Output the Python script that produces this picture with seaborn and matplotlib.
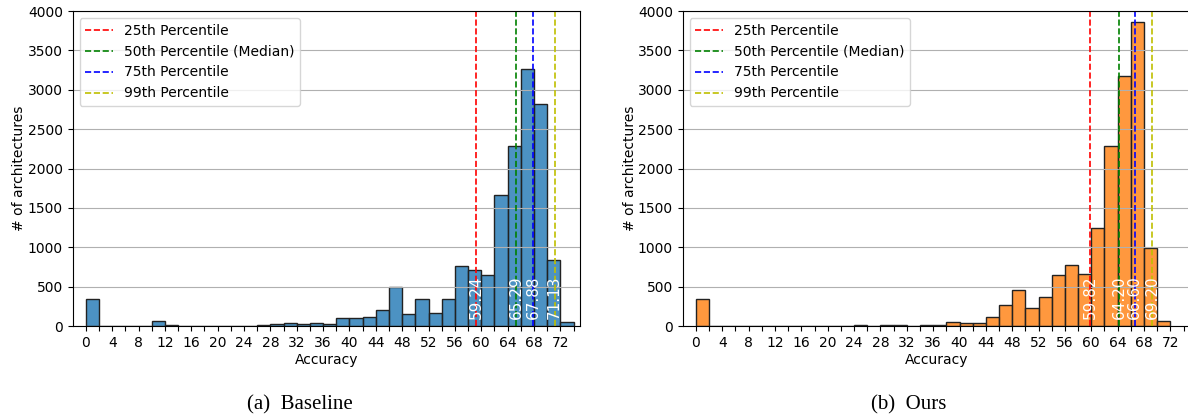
import matplotlib

matplotlib.use("Agg")
import matplotlib.pyplot as plt
import numpy as np
import pandas as pd
import seaborn as sns

# --- data (2-wide accuracy bins starting at 0) ---
BIN_WIDTH = 2
baseline_counts = [340, 0, 0, 0, 0, 60, 10, 0, 0, 0, 0, 0, 0, 10, 20, 40, 20, 38, 30,
                   100, 100, 110, 200, 490, 150, 340, 160, 340, 765, 715, 650, 1670,
                   2285, 3260, 2815, 840, 50]
ours_counts = [340, 0, 0, 0, 0, 0, 0, 0, 0, 0, 0, 0, 10, 0, 10, 10, 0, 8, 8, 50, 35, 35,
               110, 270, 455, 235, 365, 650, 775, 660, 1250, 2285, 3175, 3865, 985, 60]
baseline_pct = [59.24, 65.29, 67.88, 71.13]
ours_pct = [59.82, 64.20, 66.60, 69.20]
pct_labels = ["25th Percentile", "50th Percentile (Median)", "75th Percentile", "99th Percentile"]
pct_colors = ["r", "g", "b", "y"]
captions = ["(a)  Baseline", "(b)  Ours"]

plt.rcParams["font.family"] = "DejaVu Sans"
FS = 10

fig = plt.figure(figsize=(11.88, 4.16), dpi=100)
ax1 = fig.add_axes([0.0612, 0.2163, 0.4271, 0.757])
ax2 = fig.add_axes([0.5747, 0.2163, 0.4271, 0.757])

panels = [(ax1, baseline_counts, baseline_pct, "#1f77b4"),
          (ax2, ours_counts, ours_pct, "#ff7f0e")]

for ax, counts, pcts, color in panels:
    n_bins = len(counts)
    df = pd.DataFrame({"acc": np.arange(n_bins) * BIN_WIDTH + BIN_WIDTH / 2, "n": counts})
    sns.histplot(data=df, x="acc", weights="n", binwidth=BIN_WIDTH,
                 binrange=(0, n_bins * BIN_WIDTH), color=color, alpha=0.8,
                 edgecolor="#222222", linewidth=1, ax=ax)
    for p, lab, c in zip(pcts, pct_labels, pct_colors):
        ax.axvline(p, color=c, ls="--", lw=1.2, label=lab)
        ax.text(p, 90, f"{p:.2f}", rotation=90, color="white", fontsize=11,
                ha="center", va="bottom")
    ax.set_xlim(-2, 75)
    ax.set_ylim(0, 4000)
    ax.set_xticks(np.arange(0, 75, 2))
    ax.set_xticklabels([str(t) if t % 4 == 0 else "" for t in range(0, 75, 2)])
    ax.set_yticks(np.arange(0, 4001, 500))
    ax.tick_params(labelsize=FS)
    ax.grid(axis="y", color="#b0b0b0", lw=0.8)
    ax.set_xlabel("Accuracy", fontsize=FS, labelpad=2)
    ax.set_ylabel("# of architectures", fontsize=FS, labelpad=1)
    ax.legend(loc="upper left", fontsize=FS)

fig.text(0.252, 0.015, captions[0], family="Liberation Serif", fontsize=15, ha="center")
fig.text(0.765, 0.015, captions[1], family="Liberation Serif", fontsize=15, ha="center")

fig.savefig("out.png", dpi=100)
